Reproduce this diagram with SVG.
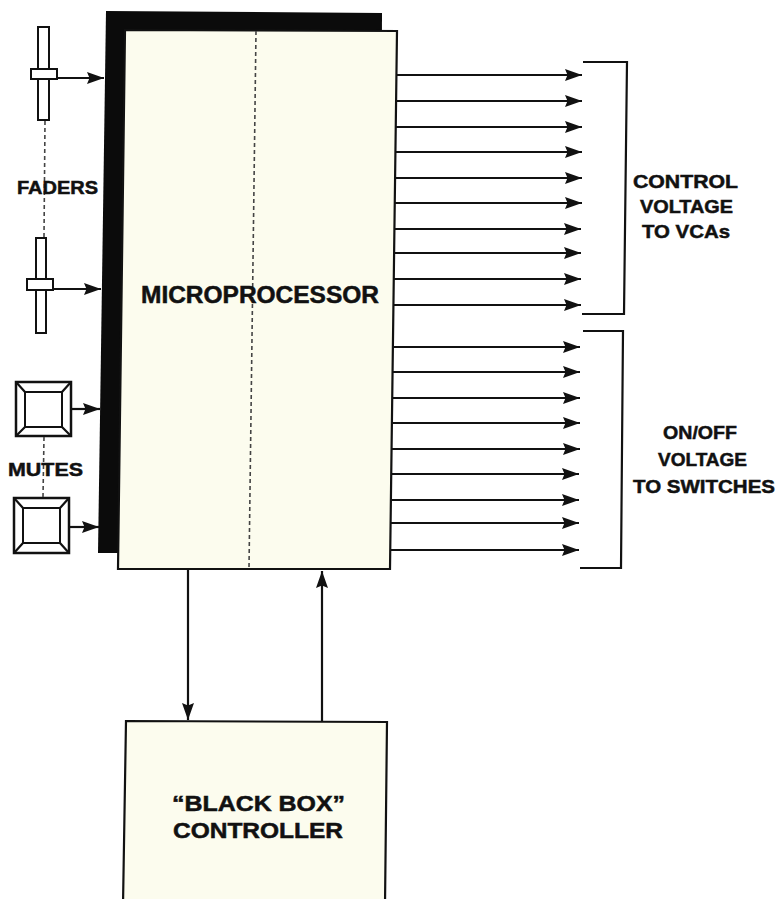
<svg xmlns="http://www.w3.org/2000/svg" width="778" height="899" viewBox="0 0 778 899">
<style>
.t{font-family:"Liberation Sans",Arial,sans-serif;font-weight:bold;fill:#111;stroke:#111;stroke-width:0.5;}
.box{fill:#fcfcee;stroke:#111;stroke-width:2.2;}
.ln{stroke:#111;stroke-width:2.2;fill:none;}
.dash{stroke:#444;stroke-width:1.6;stroke-dasharray:4 3;fill:none;}
.ctl{fill:#fff;stroke:#111;stroke-width:2;}
</style>
<defs>
<marker id="ah" markerUnits="userSpaceOnUse" markerWidth="20" markerHeight="14" refX="17" refY="6" orient="auto">
<path d="M0,0 L17,6 L0,12 L2.5,6 Z" fill="#111"/>
</marker>
</defs>
<rect width="778" height="899" fill="#fff"/>

<g id="microprocessor">
<polygon points="106,11 382,13 380,553 98,553" fill="#0b0b0b"/>
<polygon class="box" points="125,30 397,31 390,569 118,569"/>
<line class="dash" x1="256" y1="31" x2="249" y2="568" stroke="#222"/>
<text class="t" x="141" y="303" font-size="23" textLength="238" lengthAdjust="spacingAndGlyphs">MICROPROCESSOR</text>
</g>

<g id="faders">
<rect class="ctl" x="38" y="27" width="11" height="93"/>
<rect class="ctl" x="31" y="69" width="26" height="10"/>
<rect class="ctl" x="36" y="238" width="10" height="95"/>
<rect class="ctl" x="27" y="279" width="26" height="11"/>
<line class="dash" x1="45" y1="121" x2="44" y2="237"/>
<text class="t" x="17" y="194" font-size="18" textLength="81" lengthAdjust="spacingAndGlyphs">FADERS</text>
</g>

<g id="mutes">
<rect x="16" y="382" width="55" height="54" fill="#fff" stroke="#111" stroke-width="2.5"/>
<rect x="25" y="392" width="37" height="35" fill="#fff" stroke="#111" stroke-width="2"/>
<path class="ln" d="M16,382 L25,392 M71,382 L62,392 M16,436 L25,427 M71,436 L62,427"/>
<rect x="14" y="498" width="55" height="55" fill="#fff" stroke="#111" stroke-width="2.5"/>
<rect x="23" y="508" width="37" height="35" fill="#fff" stroke="#111" stroke-width="2"/>
<path class="ln" d="M14,498 L23,508 M69,498 L60,508 M14,553 L23,543 M69,553 L60,543"/>
<line class="dash" x1="44" y1="437" x2="43" y2="497"/>
<text class="t" x="8" y="476" font-size="19" textLength="75" lengthAdjust="spacingAndGlyphs">MUTES</text>
</g>

<g id="controller">
<polygon class="box" points="126,721 387,722 385,905 123,905"/>
<text class="t" x="172" y="811" font-size="22" textLength="173" lengthAdjust="spacingAndGlyphs">“BLACK BOX”</text>
<text class="t" x="173" y="838" font-size="22" textLength="170" lengthAdjust="spacingAndGlyphs">CONTROLLER</text>
</g>

<g id="labels">
<text class="t" x="633" y="188" font-size="19" textLength="105" lengthAdjust="spacingAndGlyphs">CONTROL</text>
<text class="t" x="640" y="213" font-size="19" textLength="93" lengthAdjust="spacingAndGlyphs">VOLTAGE</text>
<text class="t" x="642" y="238" font-size="19" textLength="88" lengthAdjust="spacingAndGlyphs">TO VCAs</text>
<text class="t" x="663" y="439" font-size="19" textLength="74" lengthAdjust="spacingAndGlyphs">ON/OFF</text>
<text class="t" x="658" y="466" font-size="19" textLength="89" lengthAdjust="spacingAndGlyphs">VOLTAGE</text>
<text class="t" x="633" y="493" font-size="19" textLength="142" lengthAdjust="spacingAndGlyphs">TO SWITCHES</text>
</g>

<g id="brackets">
<polyline class="ln" points="583,62 627,62 624,314 582,314"/>
<polyline class="ln" points="583,331 623,331 621,568 580,568"/>
</g>

<g id="connectors" class="ln" marker-end="url(#ah)">
<line x1="57" y1="78" x2="104" y2="78"/>
<line x1="53" y1="289" x2="101" y2="289"/>
<line x1="71" y1="409" x2="100" y2="409"/>
<line x1="69" y1="527" x2="99" y2="527"/>
<line x1="396" y1="75" x2="582" y2="75"/>
<line x1="396" y1="101" x2="582" y2="101"/>
<line x1="396" y1="127" x2="582" y2="127"/>
<line x1="395" y1="152" x2="582" y2="152"/>
<line x1="395" y1="178" x2="582" y2="178"/>
<line x1="395" y1="203" x2="582" y2="203"/>
<line x1="395" y1="229" x2="581" y2="229"/>
<line x1="394" y1="253" x2="581" y2="253"/>
<line x1="394" y1="279" x2="581" y2="279"/>
<line x1="394" y1="305" x2="581" y2="305"/>
<line x1="393" y1="347" x2="580" y2="347"/>
<line x1="393" y1="372" x2="580" y2="372"/>
<line x1="393" y1="398" x2="580" y2="398"/>
<line x1="392" y1="423" x2="580" y2="423"/>
<line x1="392" y1="449" x2="580" y2="449"/>
<line x1="392" y1="474" x2="579" y2="474"/>
<line x1="391" y1="500" x2="579" y2="500"/>
<line x1="391" y1="523" x2="579" y2="523"/>
<line x1="390" y1="550" x2="579" y2="550"/>
<line x1="188" y1="570" x2="188" y2="720"/>
<line x1="322" y1="721" x2="322" y2="571"/>
</g>
</svg>
